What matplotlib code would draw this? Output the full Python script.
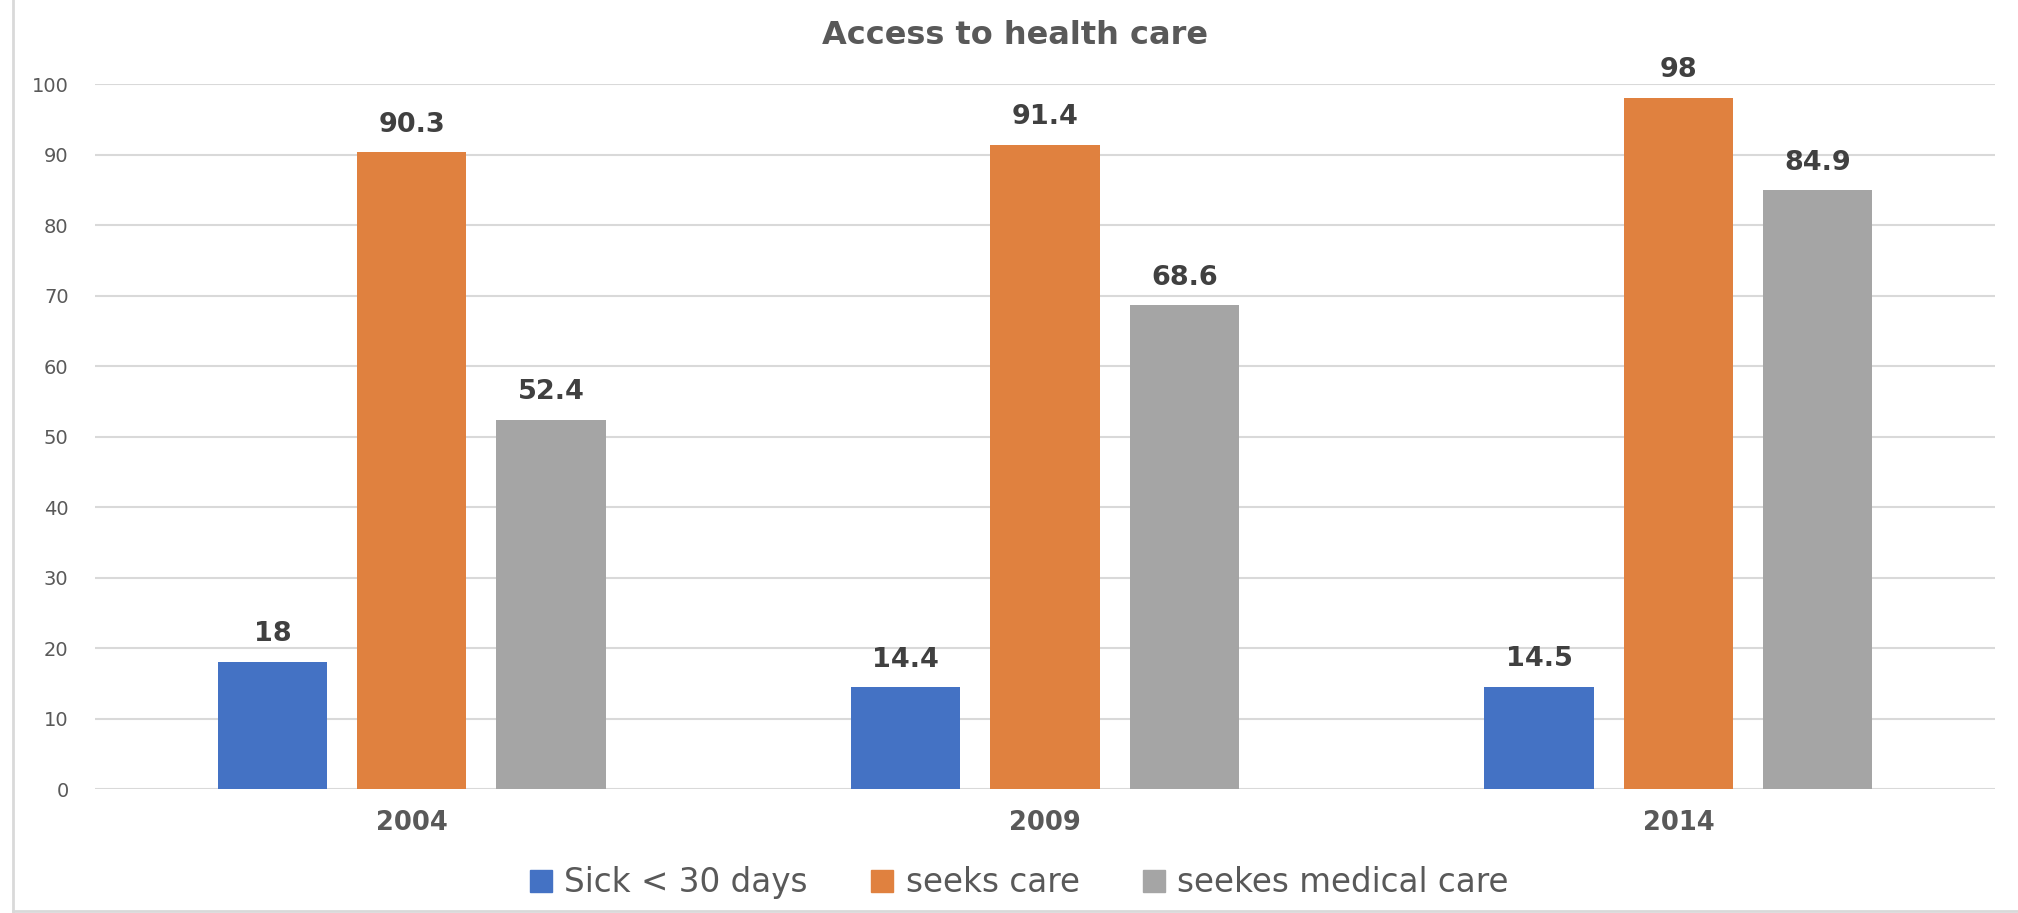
import matplotlib
matplotlib.use("Agg")
import matplotlib.pyplot as plt
import numpy as np
from matplotlib.lines import Line2D

years = ["2004", "2009", "2014"]
series_names = ["Sick < 30 days", "seeks care", "seekes medical care"]
sick = [18, 14.4, 14.5]
seeks_care = [90.3, 91.4, 98]
seeks_medical = [52.4, 68.6, 84.9]
colors = ["#4472C4", "#E0813F", "#A5A5A5"]
yticks = [0, 10, 20, 30, 40, 50, 60, 70, 80, 90, 100]

TEXT = "#595959"
LABEL = "#404040"
GRID = "#D9D9D9"

fig = plt.figure(figsize=(20.18, 9.13), dpi=100)
# plot area: x 95..1995 px, y 84..789 px
ax = fig.add_axes([95 / 2018, 124 / 913, 1900 / 2018, 705 / 913])

x = np.arange(len(years))
width = 0.173
offsets = [-0.22, 0.0, 0.22]
for vals, off, col in zip([sick, seeks_care, seeks_medical], offsets, colors):
    bars = ax.bar(x + off, vals, width, color=col, zorder=2)
    for b, v in zip(bars, vals):
        ax.annotate(f"{v:g}", (b.get_x() + b.get_width() / 2, v),
                    xytext=(0, 20), textcoords="offset points",
                    ha="center", va="center", fontsize=19.5, fontweight="bold",
                    color=LABEL, annotation_clip=False)

ax.set_xlim(-0.5, 2.5)
ax.set_ylim(0, 100)
ax.set_yticks(yticks)
ax.set_xticks(x)
ax.set_xticklabels(years, fontsize=18.5, fontweight="bold", color=TEXT)
ax.tick_params(axis="y", labelsize=14, labelcolor=TEXT, length=0, pad=19)
ax.tick_params(axis="x", length=0, pad=15)
ax.grid(axis="y", color=GRID, linewidth=1.5, zorder=0)
for s in ax.spines.values():
    s.set_visible(False)

fig.text(0.503, 0.9606, "Access to health care", ha="center", va="center",
         fontsize=23, fontweight="bold", color=TEXT)

handles = [Line2D([], [], marker="s", linestyle="none", markersize=16.5,
                  markerfacecolor=c, markeredgecolor=c) for c in colors]
fig.legend(handles, series_names, loc="center", bbox_to_anchor=(0.505, 0.033),
           ncol=3, frameon=False, handletextpad=0.37, columnspacing=1.93,
           handlelength=0.7, prop={"family": "DejaVu Sans", "size": 23.5},
           labelcolor=TEXT)

# light chart border (left and bottom edges visible)
fig.add_artist(Line2D([0.0064, 0.0064], [0.0022, 1.0], transform=fig.transFigure,
                      color=GRID, linewidth=2))
fig.add_artist(Line2D([0.0064, 1.0], [0.0022, 0.0022], transform=fig.transFigure,
                      color=GRID, linewidth=2))

fig.savefig("out.png", dpi=100)
